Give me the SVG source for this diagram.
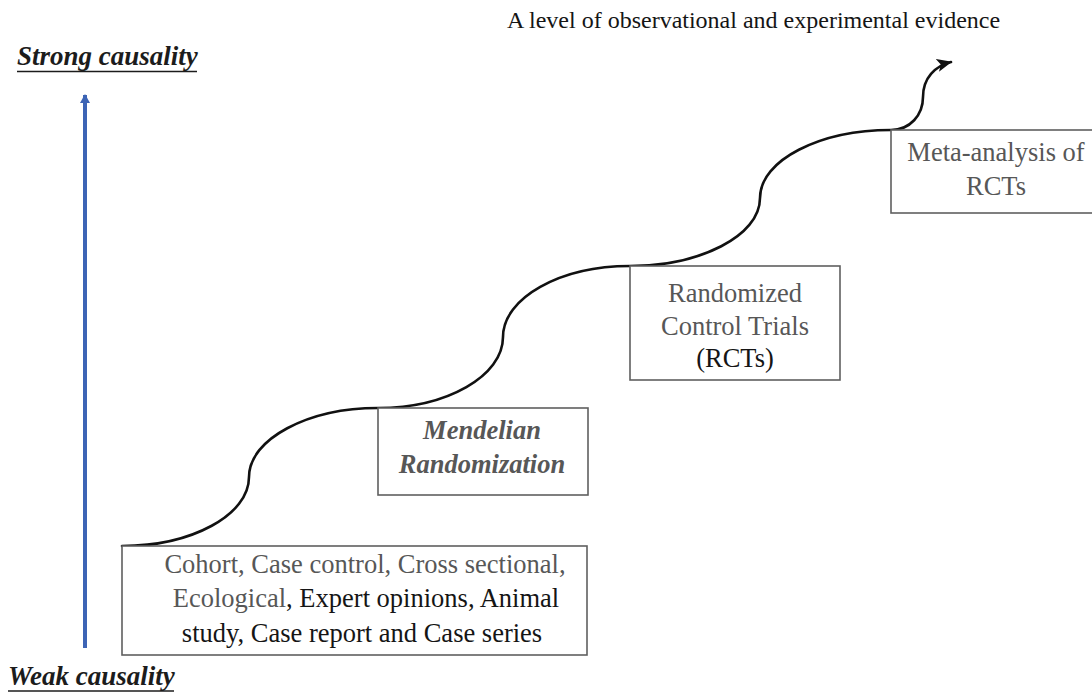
<svg xmlns="http://www.w3.org/2000/svg" width="1092" height="696" viewBox="0 0 1092 696">
  <defs>
    <style>
      .serif { font-family: 'Liberation Serif', 'Times New Roman', Tinos, 'DejaVu Serif', serif; }
      .box { fill: #ffffff; stroke: #5f5f5f; stroke-width: 1.6; }
      .t { font-size: 26.5px; text-anchor: middle; }
      .gray { fill: #575757; }
      .dark { fill: #151515; }
      .bi { font-weight: bold; font-style: italic; }
      .axis-label { font-size: 27px; font-weight: bold; font-style: italic; fill: #1c1c1c; }
      .step { fill: none; stroke: #111111; stroke-width: 2.6; stroke-linecap: round; }
    </style>
    <marker id="blackHead" markerUnits="userSpaceOnUse" markerWidth="18" markerHeight="14" refX="14" refY="6.5" orient="auto">
      <path d="M0,0 L15,6.5 L0,13 L3.5,6.5 Z" fill="#111111"/>
    </marker>
    <marker id="blueHead" markerUnits="userSpaceOnUse" markerWidth="12" markerHeight="12" refX="8" refY="5" orient="auto">
      <path d="M0,0 L9,5 L0,10 Z" fill="#3d64b5"/>
    </marker>
  </defs>

  <rect width="1092" height="696" fill="#ffffff"/>

  <!-- heading -->
  <text class="serif" x="507" y="28" font-size="24" fill="#151515">A level of observational and experimental evidence</text>

  <!-- causality axis -->
  <g id="axis">
    <text class="serif axis-label" x="17" y="65">Strong causality</text>
    <line x1="17" y1="71.5" x2="197" y2="71.5" stroke="#1c1c1c" stroke-width="1.6"/>
    <line x1="85" y1="648" x2="85" y2="95" stroke="#3d64b5" stroke-width="4" marker-end="url(#blueHead)"/>
    <text class="serif axis-label" x="8" y="685">Weak causality</text>
    <line x1="8" y1="691" x2="174" y2="691" stroke="#1c1c1c" stroke-width="1.6"/>
  </g>

  <!-- staircase connector -->
  <g id="connectors">
    <path class="step" marker-end="url(#blackHead)"
          d="M122,546 C192,546 249,515 249,477 C249,439 308,408 378,408
             C447,408 503,376 503,337 C503,298 560,266 630,266
             C700,266 760,236 760,198 C760,160 820,130 891,130
             C910,130 923,115 923,97 C923,78 935,66 951,62"/>
  </g>

  <g id="observational" class="serif">
    <rect class="box" x="122" y="546" width="465" height="109"/>
    <text class="t" x="365" y="573"><tspan class="gray">Cohort, Case control, Cross sectional,</tspan></text>
    <text class="t" x="366" y="607"><tspan class="gray">Ecological</tspan><tspan class="dark">, Expert opinions, Animal</tspan></text>
    <text class="t dark" x="362" y="642">study, Case report and Case series</text>
  </g>

  <g id="mendelian" class="serif">
    <rect class="box" x="378" y="408" width="210" height="87"/>
    <text class="t bi gray" x="482" y="439">Mendelian</text>
    <text class="t bi gray" x="482" y="473">Randomization</text>
  </g>

  <g id="rct" class="serif">
    <rect class="box" x="630" y="266" width="210" height="114"/>
    <text class="t gray" x="735" y="302">Randomized</text>
    <text class="t gray" x="735" y="335">Control Trials</text>
    <text class="t dark" x="735" y="367">(RCTs)</text>
  </g>

  <g id="meta" class="serif">
    <rect class="box" x="891" y="130" width="215" height="83"/>
    <text class="t gray" x="996" y="161">Meta-analysis of</text>
    <text class="t gray" x="996" y="195">RCTs</text>
  </g>
</svg>
